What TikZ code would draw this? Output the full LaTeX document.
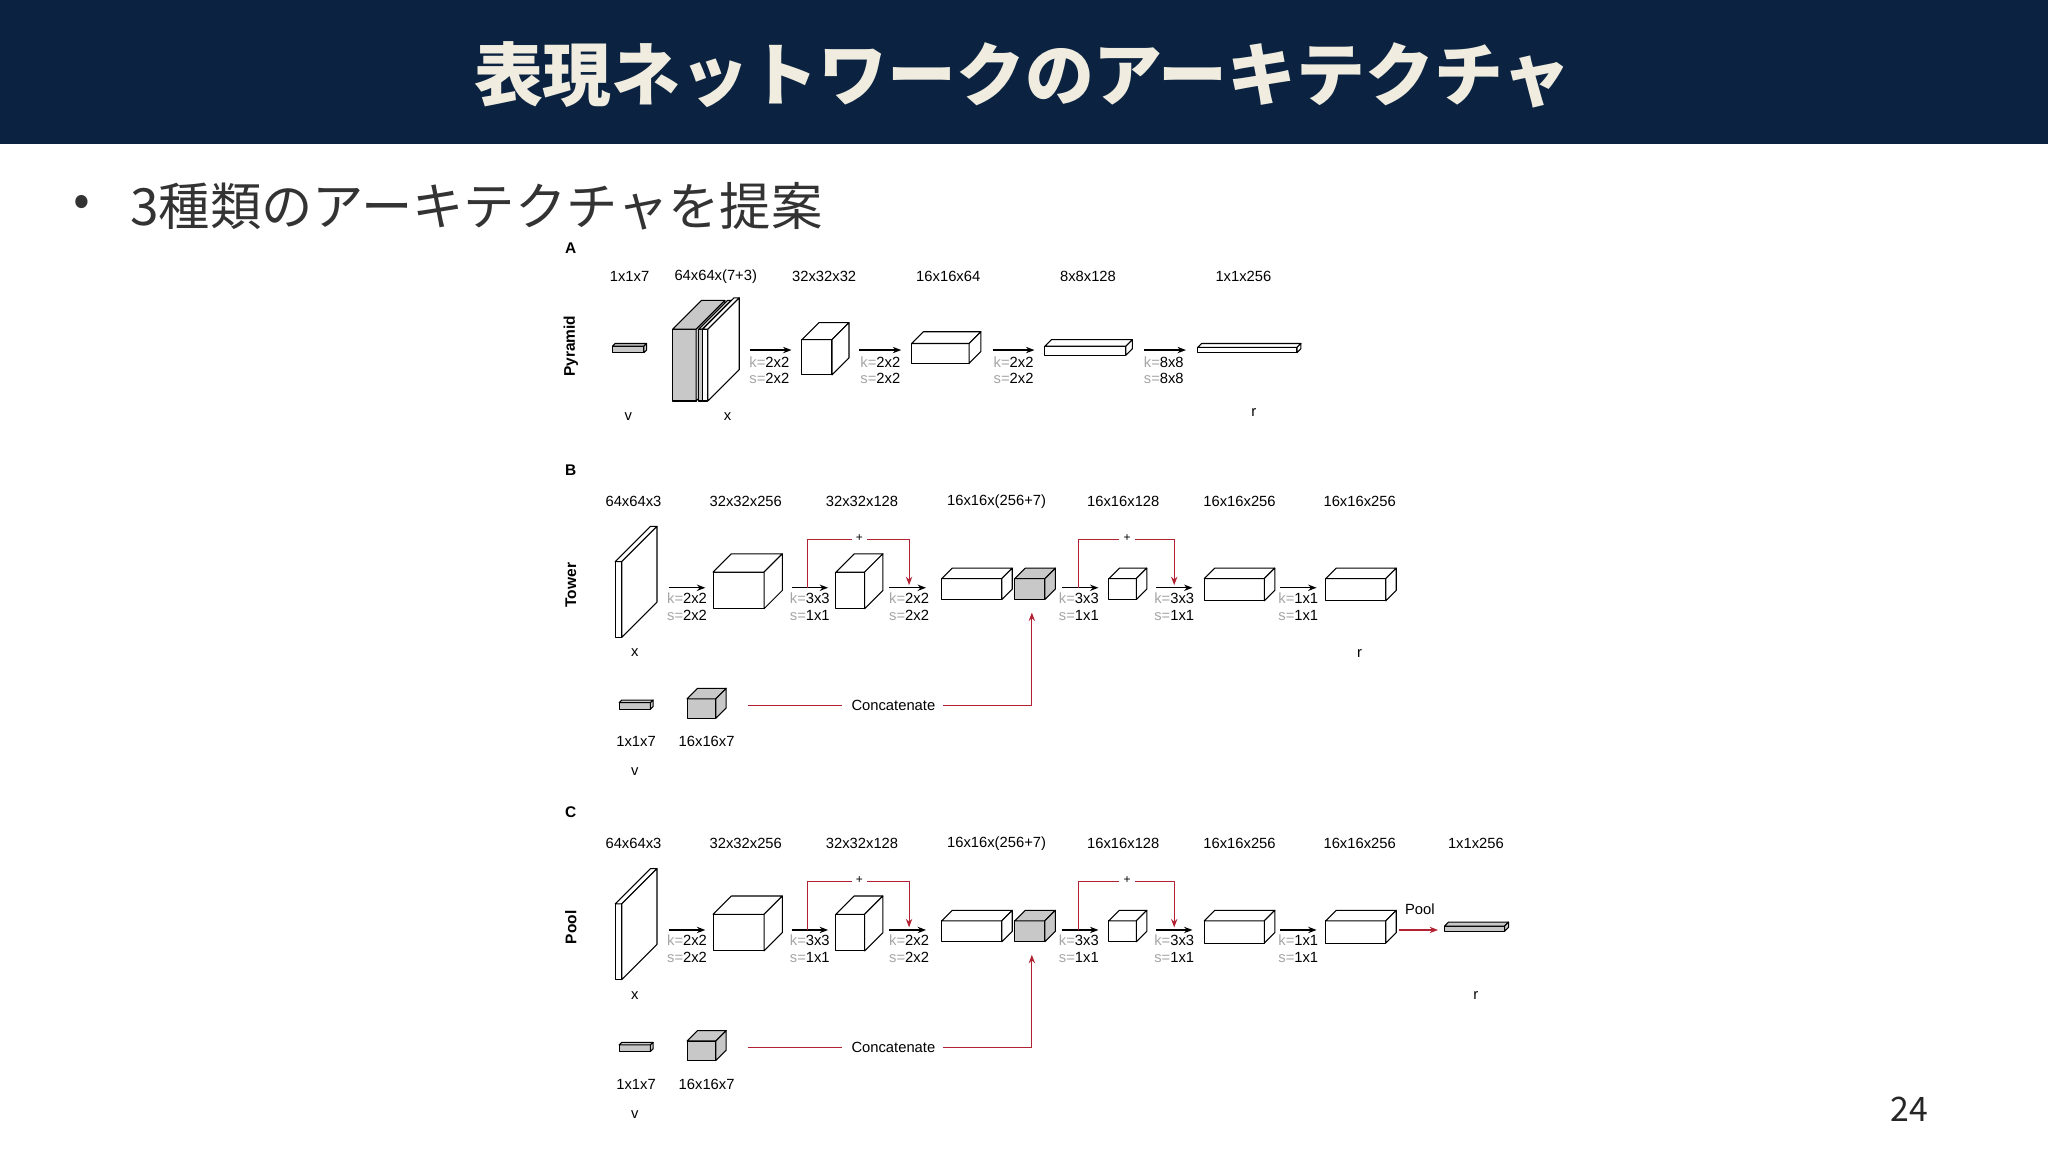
\documentclass[tikz,border=0pt]{standalone}
\usepackage{fontspec}
\setmainfont{Liberation Sans}
\newfontfamily\cjk{Noto Sans CJK JP}
\usetikzlibrary{arrows.meta}
\definecolor{navy}{HTML}{0B2340}
\definecolor{cream}{HTML}{F0EDE0}
\definecolor{dred}{HTML}{B22233}
\definecolor{lgray}{HTML}{C8C8C8}
\newcommand\cb[6]{%
  \filldraw[fill=#6,line width=1.5pt,line join=round] (#1,#2) rectangle ++(#3,#4);
  \filldraw[fill=#6,line width=1.5pt,line join=round] (#1,#2) -- ++(#5,-#5) -- ++(#3,0) -- ({#1+#3},#2) -- cycle;
  \filldraw[fill=#6,line width=1.5pt,line join=round] ({#1+#3},#2) -- ++(#5,-#5) -- ++(0,#4) -- ({#1+#3},{#2+#4}) -- cycle;}
\newcommand\ks[4]{% x y k s
  \node[lab,anchor=center] at (#1,#2) {\textcolor{gray!70}{k=}#3};
  \node[lab,anchor=center] at (#1,{#2+13}) {\textcolor{gray!70}{s=}#4};}
\tikzset{lab/.style={font=\fontsize{21}{24}\selectfont,inner sep=0pt},
  arr/.style={-{Stealth[length=12pt,width=9pt]},line width=2pt},
  rarr/.style={-{Stealth[length=12pt,width=9pt]},line width=1.6pt,dred},
  rl/.style={line width=1.6pt,dred},
  side/.style={lab,font=\fontsize{22}{24}\selectfont\bfseries,rotate=90}}
\begin{document}
\begin{tikzpicture}[x=0.06531cm,y=-0.06531cm]
\useasboundingbox (0,0) rectangle (1568,882);
\fill[white] (0,0) rectangle (1568,882);
\fill[navy] (0,0) rectangle (1568,110);
\node[text=cream,font=\cjk\fontsize{98}{100}\selectfont\bfseries] (title) at (783,57) {表現ネットワークのアーキテクチャ};
\node[font=\cjk\fontsize{70}{80}\selectfont,text=black!80] (bul) at (63,158) {•};
\node[anchor=west,font=\cjk\fontsize{73}{80}\selectfont,text=black!80] (sub) at (98,158) {3種類のアーキテクチャを提案};
\node[font=\cjk\fontsize{48}{50}\selectfont,text=black!85] (pg) at (1462,849) {24};
% ---------- A
\node[lab,font=\fontsize{22}{24}\selectfont\bfseries] at (437,190) {A};
\node[side] at (437,265) {Pyramid};
\foreach \t/\x in {1x1x7/482,64x64x(7+3)/548,32x32x32/631,16x16x64/726,8x8x128/833,1x1x256/952}
  \node[lab] at (\x,212) {\t};
\cb{469}{265}{24}{5}{2}{lgray}
\cb{515}{252}{18}{55}{22}{lgray}
\cb{535}{252}{3}{55}{22}{lgray}
\cb{538}{252}{4}{55}{24}{white}
\cb{614}{260}{23}{27}{13}{white}
\cb{698}{263}{44}{15}{9}{white}
\cb{800}{265}{62}{7}{5}{white}
\cb{917}{266}{76}{4}{3}{white}
\foreach \a/\b in {574/606,658/690,760/792,876/908}
  \draw[arr] (\a,268) -- (\b,268);
\ks{589}{277}{2x2}{2x2}\ks{674}{277}{2x2}{2x2}\ks{776}{277}{2x2}{2x2}\ks{891}{277}{8x8}{8x8}
\node[lab] at (481,319) {v};
\node[lab] at (557,319) {x};
\node[lab] at (960,316) {r};
% ---------- B and C
\foreach \dy/\L/\S in {0/B/Tower,262/C/Pool}{
\begin{scope}[shift={(0,\dy)}]
\node[lab,font=\fontsize{22}{24}\selectfont\bfseries] at (437,360) {\L};
\node[side] at (437,448) {\S};
\foreach \t/\x in {64x64x3/485,32x32x256/571,32x32x128/660,16x16x(256+7)/763,16x16x128/860,16x16x256/949,16x16x256/1041}
  \node[lab] at (\x,384) {\t};
\cb{471}{430}{5}{58}{27}{white}
\cb{546}{438}{39}{28}{14}{white}
\cb{640}{438}{22}{28}{14}{white}
\cb{721}{443}{46}{16}{8}{white}
\cb{777}{443}{23}{16}{8}{lgray}
\cb{849}{443}{21}{16}{8}{white}
\cb{922}{443}{46}{17}{8}{white}
\cb{1015}{443}{46}{17}{8}{white}
\foreach \a/\b in {512/540,606/634,681/709,813/841,885/913,980/1008}
  \draw[arr] (\a,450) -- (\b,450);
\ks{526}{458}{2x2}{2x2}\ks{620}{458}{3x3}{1x1}\ks{696}{458}{2x2}{2x2}
\ks{826}{458}{3x3}{1x1}\ks{899}{458}{3x3}{1x1}\ks{994}{458}{1x1}{1x1}
\draw[rl] (618,450) -- (618,413) -- (652,413);
\node[lab,font=\fontsize{17}{20}\selectfont] at (658,412) {+};
\draw[rarr] (664,413) -- (696,413) -- (696,448);
\draw[rl] (826,450) -- (826,413) -- (857,413);
\node[lab,font=\fontsize{17}{20}\selectfont] at (863,412) {+};
\draw[rarr] (869,413) -- (899,413) -- (899,448);
\node[lab] at (486,500) {x};
\cb{474}{538}{24}{5}{2}{lgray}
\cb{526}{535}{22}{15}{8}{lgray}
\draw[rl] (573,540) -- (645,540);
\node[lab] at (684,540) {Concatenate};
\draw[rarr] (722,540) -- (790,540) -- (790,469);
\node[lab] at (487,568) {1x1x7};
\node[lab] at (541,568) {16x16x7};
\node[lab] at (486,591) {v};
\end{scope}}
\node[lab] at (1041,500) {r};
\node[lab] at (1130,646) {1x1x256};
\node[lab] at (1087,696) {Pool};
\draw[rarr] (1071,712) -- (1101,712);
\cb{1106}{709}{46}{4}{3}{lgray}
\node[lab] at (1130,762) {r};
\end{tikzpicture}
\end{document}
